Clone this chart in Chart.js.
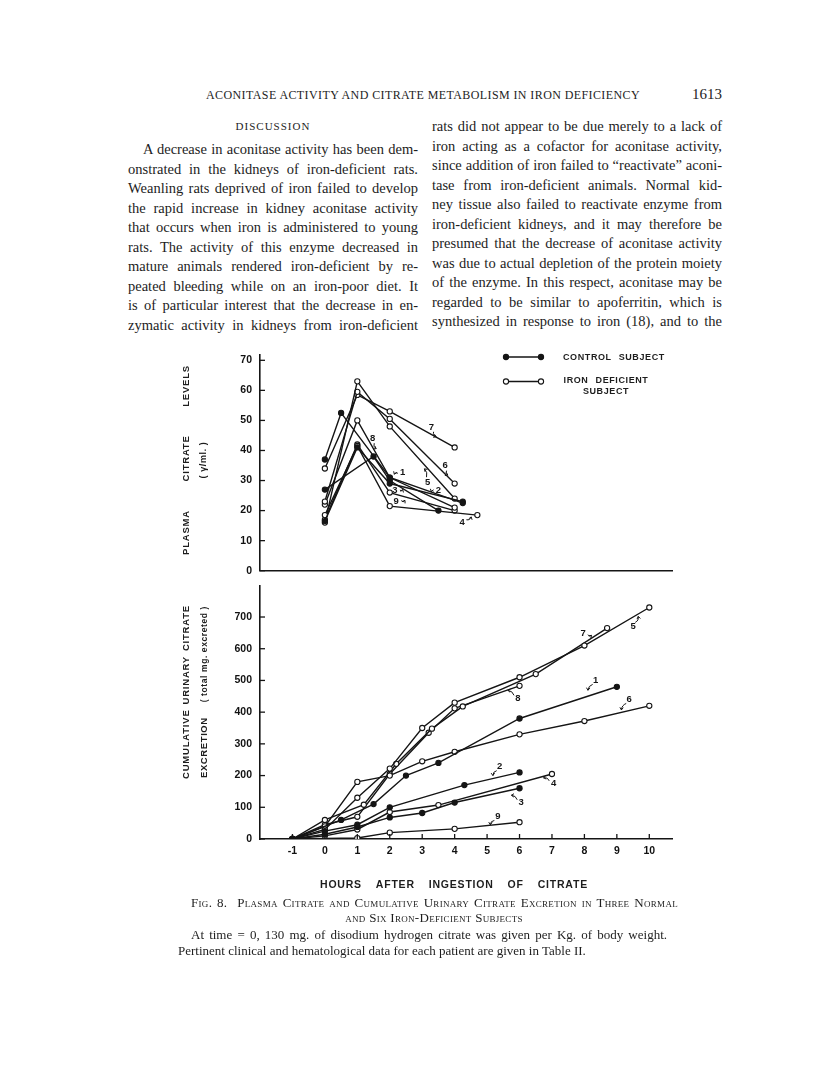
<!DOCTYPE html>
<html>
<head>
<meta charset="utf-8">
<script src="https://cdn.jsdelivr.net/npm/chart.js@4.4.1/dist/chart.umd.min.js"></script>
<style>
  html, body { margin: 0; padding: 0; background: #fff; }
  #page { position: relative; width: 816px; height: 1073px; overflow: hidden; color: #1d1d1d;
          font-family: "Liberation Serif", "DejaVu Serif", serif; }
  .abs { position: absolute; }
  .line { position: absolute; height: 19px; line-height: 19px; font-size: 14.5px;
          text-align: justify; text-align-last: justify; }
  .sans { font-family: "Liberation Sans", Arial, sans-serif; font-weight: bold; }
  .vtitle { position: absolute; display: flex; justify-content: space-between; align-items: center;
            transform: translate(-50%, -50%) rotate(-90deg); white-space: nowrap; }
  canvas { position: absolute; }
</style>
</head>
<body>
<div id="page">
  <div class="abs" style="left:206px; top:88px; width:434px; font-size:12px; letter-spacing:0.4px; text-align:justify; text-align-last:justify;">ACONITASE ACTIVITY AND CITRATE METABOLISM IN IRON DEFICIENCY</div>
  <div class="abs" style="left:670px; top:86px; width:52px; font-size:15px; text-align:right;">1613</div>
  <div class="abs" style="left:128px; top:120px; width:290px; font-size:11px; letter-spacing:1px; text-align:center;">DISCUSSION</div>
  <div id="leftCol"></div>
  <div id="rightCol"></div>

  <canvas id="plasmaChart" width="520" height="245" style="left:160px; top:340px;"></canvas>
  <canvas id="urineChart" width="520" height="298" style="left:160px; top:571px;"></canvas>

  <div class="abs sans" style="left:563px; top:351px; font-size:9px; line-height:12px; letter-spacing:0.6px; word-spacing:4px;">CONTROL SUBJECT</div>
  <div class="abs sans" style="left:561px; top:375px; width:90px; font-size:9px; line-height:11px; letter-spacing:0.6px; word-spacing:4px; text-align:center;">IRON DEFICIENT<br>SUBJECT</div>

  <div class="vtitle sans" style="left:185px; top:460px; width:190px; font-size:9.5px; letter-spacing:0.8px;"><span>PLASMA</span><span>CITRATE</span><span>LEVELS</span></div>
  <div class="vtitle sans" style="left:203px; top:460px; font-size:9px; letter-spacing:0.6px;"><span>( γ/ml. )</span></div>
  <div class="vtitle sans" style="left:185px; top:692px; width:174px; font-size:9.5px; letter-spacing:0.8px;"><span>CUMULATIVE</span><span>URINARY</span><span>CITRATE</span></div>
  <div class="vtitle sans" style="left:203px; top:692px; width:172px; letter-spacing:0.6px;"><span style="font-size:9.5px;">EXCRETION</span><span style="font-size:8.5px;">( total mg. excreted )</span></div>

  <div class="abs sans" style="left:320px; top:878px; width:268px; font-size:10.5px; letter-spacing:0.8px; display:flex; justify-content:space-between;"><span>HOURS</span><span>AFTER</span><span>INGESTION</span><span>OF</span><span>CITRATE</span></div>

  <div class="abs" style="left:191px; top:895px; width:487px; font-size:13px; line-height:15px; font-variant:small-caps; letter-spacing:0.3px; text-align:justify; text-align-last:justify;">Fig. 8.&nbsp; Plasma Citrate and Cumulative Urinary Citrate Excretion in Three Normal</div>
  <div class="abs" style="left:190px; top:910px; width:488px; font-size:13px; line-height:15px; font-variant:small-caps; letter-spacing:0.3px; text-align:center;">and Six Iron-Deficient Subjects</div>
  <div class="abs" style="left:191px; top:927px; width:476px; font-size:13px; line-height:15px; text-align:justify; text-align-last:justify;">At time = 0, 130 mg. of disodium hydrogen citrate was given per Kg. of body weight.</div>
  <div class="abs" style="left:178px; top:943px; width:460px; font-size:13px; line-height:15px; white-space:nowrap;">Pertinent clinical and hematological data for each patient are given in Table II.</div>
</div>

<script>
// ===============================
// TEXT
// ===============================
const leftLines = [
  "A decrease in aconitase activity has been dem-",
  "onstrated in the kidneys of iron-deficient rats.",
  "Weanling rats deprived of iron failed to develop",
  "the rapid increase in kidney aconitase activity",
  "that occurs when iron is administered to young",
  "rats.  The activity of this enzyme decreased in",
  "mature animals rendered iron-deficient by re-",
  "peated bleeding while on an iron-poor diet.  It",
  "is of particular interest that the decrease in en-",
  "zymatic activity in kidneys from iron-deficient"
];
const rightLines = [
  "rats did not appear to be due merely to a lack of",
  "iron acting as a cofactor for aconitase activity,",
  "since addition of iron failed to \u201creactivate\u201d aconi-",
  "tase from iron-deficient animals.  Normal kid-",
  "ney tissue also failed to reactivate enzyme from",
  "iron-deficient kidneys, and it may therefore be",
  "presumed that the decrease of aconitase activity",
  "was due to actual depletion of the protein moiety",
  "of the enzyme.  In this respect, aconitase may be",
  "regarded to be similar to apoferritin, which is",
  "synthesized in response to iron (18), and to the"
];

function placeLines(el, lines, left, top, width, indent) {
  lines.forEach((txt, i) => {
    const d = document.createElement("div");
    d.className = "line";
    d.style.left = (left + (i === 0 ? indent : 0)) + "px";
    d.style.width = (width - (i === 0 ? indent : 0)) + "px";
    d.style.top = (top + i * 19.5) + "px";
    d.textContent = txt;
    el.appendChild(d);
  });
}
placeLines(document.getElementById("leftCol"), leftLines, 128, 140, 290, 15);
placeLines(document.getElementById("rightCol"), rightLines, 432, 117, 290, 0);

// ===============================
// DATA
// ===============================
const hourTicks = [-1, 0, 1, 2, 3, 4, 5, 6, 7, 8, 9, 10];
const plasmaTicks = [0, 10, 20, 30, 40, 50, 60, 70];
const urineTicks = [0, 100, 200, 300, 400, 500, 600, 700];

// plasma citrate (γ/ml) — [hour, value]; subjects 1-3 control
const plasma1 = [[0, 37], [0.5, 52.5], [2, 31], [4.25, 22.5]];
const plasma2 = [[0, 16.5], [1, 41], [2, 29], [4.25, 23]];
const plasma3 = [[0, 27], [1.5, 38], [2, 30], [3.5, 20]];
const plasma4 = [[0, 18.5], [1, 41.5], [2, 21.5], [4.7, 18.5]];
const plasma5 = [[0, 16], [1, 63], [2, 48], [4, 24]];
const plasma6 = [[0, 23], [1, 59.5], [2, 50.5], [4, 29]];
const plasma7 = [[0, 34], [1, 58.5], [2, 53], [4, 41]];
const plasma8 = [[0, 22], [1, 50], [2, 31], [4, 21]];
const plasma9 = [[0, 17], [1, 42], [2, 26], [4, 20]];

// cumulative urinary citrate (total mg excreted)
const urine1 = [[-1, 0], [0.5, 60], [1.5, 110], [2.5, 200], [3.5, 240], [6, 380], [9, 480]];
const urine2 = [[-1, 0], [0, 25], [1, 45], [2, 100], [4.3, 170], [6, 210]];
const urine3 = [[-1, 0], [0, 15], [1, 38], [2, 68], [3, 82], [4, 115], [6, 160]];
const urine4 = [[-1, 0], [0, 10], [1, 30], [2, 85], [3.5, 107], [7, 205]];
const urine5 = [[-1, 0], [0, 30], [1, 130], [2, 222], [3, 350], [4, 430], [6, 510], [8, 610], [10, 730]];
const urine6 = [[-1, 0], [0, 40], [1, 180], [2, 200], [3, 245], [4, 275], [6, 330], [8, 372], [10, 420]];
const urine7 = [[-1, 0], [0, 60], [1.2, 108], [2.2, 237], [3.3, 348], [4.25, 418], [6.5, 520], [8.7, 665]];
const urine8 = [[-1, 0], [0, 45], [1, 70], [2, 205], [3.2, 335], [4, 412], [6, 483]];
const urine9 = [[-1, 0], [1, 3], [2, 20], [4, 32], [6, 53]];

const controlSubjects = [1, 2, 3];

// ===============================
// HELPERS
// ===============================
Chart.defaults.font.family = '"Liberation Sans", Arial, sans-serif';
Chart.defaults.color = "#111";

function series(points, subject) {
  const control = controlSubjects.includes(subject);
  return {
    data: points.map(p => ({ x: p[0], y: p[1] })),
    showLine: true,
    borderColor: "#151515",
    borderWidth: 1.4,
    pointRadius: 2.6,
    pointBackgroundColor: control ? "#151515" : "#fff",
    pointBorderColor: "#151515",
    pointBorderWidth: 1.1
  };
}

function xScale(showLabels) {
  return {
    type: "linear",
    min: -2, max: 10.7,
    afterBuildTicks: s => { s.ticks = hourTicks.map(v => ({ value: v })); },
    afterFit: s => { s.height = showLabels ? 30 : 5; },
    grid: { display: false, drawTicks: false },
    border: { display: true, color: "#151515", width: 1.6 },
    ticks: { display: showLabels, padding: 6, font: { size: 10.5, weight: "bold" } }
  };
}

function yScale(ticks, max) {
  return {
    min: 0, max: max,
    afterBuildTicks: s => { s.ticks = ticks.map(v => ({ value: v })); },
    afterFit: s => { s.width = 100; },
    grid: { display: false, drawTicks: false },
    border: { display: true, color: "#151515", width: 1.6 },
    ticks: { padding: 8, font: { size: 10.5, weight: "bold" } }
  };
}

// inward tick marks, curve numbers with small hooked arrows, legend symbols
const decorations = {
  id: "decorations",
  afterDatasetsDraw(chart, args, opts) {
    const { ctx, chartArea: a, scales: { x, y } } = chart;
    ctx.save();
    ctx.strokeStyle = "#151515";
    ctx.fillStyle = "#151515";
    ctx.lineWidth = 1.3;
    y.ticks.forEach(t => {
      const py = y.getPixelForValue(t.value);
      ctx.beginPath(); ctx.moveTo(a.left, py); ctx.lineTo(a.left + 5, py); ctx.stroke();
    });
    if (opts.xTicks) {
      x.ticks.forEach(t => {
        const px = x.getPixelForValue(t.value);
        ctx.beginPath(); ctx.moveTo(px, a.bottom); ctx.lineTo(px, a.bottom - 5); ctx.stroke();
      });
    }

    ctx.lineWidth = 1;
    ctx.font = 'bold 9.5px "Liberation Sans", Arial, sans-serif';
    ctx.textAlign = "center";
    ctx.textBaseline = "middle";
    (opts.labels || []).forEach(it => {
      const lx = x.getPixelForValue(it.at[0]), ly = y.getPixelForValue(it.at[1]);
      const tx = x.getPixelForValue(it.to[0]), ty = y.getPixelForValue(it.to[1]);
      ctx.fillText(it.t, lx, ly);
      const dx = tx - lx, dy = ty - ly, d = Math.hypot(dx, dy) || 1;
      const sx = lx + dx / d * 5, sy = ly + dy / d * 5;
      const mx = (sx + tx) / 2 - dy / d * 2.5, my = (sy + ty) / 2 + dx / d * 2.5;
      ctx.beginPath(); ctx.moveTo(sx, sy); ctx.quadraticCurveTo(mx, my, tx, ty); ctx.stroke();
      const ang = Math.atan2(ty - my, tx - mx);
      ctx.beginPath();
      ctx.moveTo(tx, ty); ctx.lineTo(tx - 3 * Math.cos(ang - 0.6), ty - 3 * Math.sin(ang - 0.6));
      ctx.moveTo(tx, ty); ctx.lineTo(tx - 3 * Math.cos(ang + 0.6), ty - 3 * Math.sin(ang + 0.6));
      ctx.stroke();
    });

    if (opts.legend) {
      ctx.lineWidth = 1.4;
      [[17, true], [41.5, false]].forEach(([ly, filled]) => {
        ctx.beginPath(); ctx.moveTo(346, ly); ctx.lineTo(381, ly); ctx.stroke();
        [346, 381].forEach(lx => {
          ctx.beginPath(); ctx.arc(lx, ly, 2.6, 0, Math.PI * 2);
          ctx.fillStyle = filled ? "#151515" : "#fff";
          ctx.fill(); ctx.lineWidth = 1.1; ctx.stroke();
        });
        ctx.lineWidth = 1.4;
      });
    }
    ctx.restore();
  }
};

// ===============================
// PLASMA CITRATE CHART
// ===============================
new Chart(document.getElementById("plasmaChart"), {
  type: "scatter",
  data: {
    datasets: [plasma1, plasma2, plasma3, plasma4, plasma5, plasma6, plasma7, plasma8, plasma9]
      .map((p, i) => series(p, i + 1))
  },
  options: {
    responsive: false,
    animation: false,
    layout: { padding: { left: 0, right: 8, top: 10, bottom: 0 } },
    scales: { x: xScale(false), y: yScale(plasmaTicks, 72) },
    plugins: {
      legend: { display: false },
      tooltip: { enabled: false },
      decorations: {
        xTicks: false,
        legend: true,
        labels: [
          { t: "7", at: [3.28, 47.7], to: [3.43, 44.6] },
          { t: "8", at: [1.47, 44], to: [1.58, 40.6] },
          { t: "6", at: [3.71, 34.9], to: [3.79, 31.8] },
          { t: "5", at: [3.17, 29.5], to: [3.07, 33.9] },
          { t: "1", at: [2.4, 32.8], to: [2.14, 32.1] },
          { t: "3", at: [2.16, 26.6], to: [2.4, 27] },
          { t: "2", at: [3.5, 26.6], to: [3.28, 26.3] },
          { t: "9", at: [2.2, 23.2], to: [2.47, 23.4] },
          { t: "4", at: [4.23, 16.1], to: [4.51, 17.9] }
        ]
      }
    }
  },
  plugins: [decorations]
});

// ===============================
// CUMULATIVE URINARY CITRATE CHART
// ===============================
new Chart(document.getElementById("urineChart"), {
  type: "scatter",
  data: {
    datasets: [urine1, urine2, urine3, urine4, urine5, urine6, urine7, urine8, urine9]
      .map((p, i) => series(p, i + 1))
  },
  options: {
    responsive: false,
    animation: false,
    layout: { padding: { left: 0, right: 8, top: 10, bottom: 0 } },
    scales: { x: xScale(true), y: yScale(urineTicks, 800) },
    plugins: {
      legend: { display: false },
      tooltip: { enabled: false },
      decorations: {
        xTicks: true,
        labels: [
          { t: "7", at: [7.96, 648], to: [8.22, 642] },
          { t: "5", at: [9.5, 669], to: [9.66, 702] },
          { t: "8", at: [5.95, 443], to: [5.64, 469] },
          { t: "1", at: [8.35, 500], to: [8.11, 469] },
          { t: "6", at: [9.38, 440], to: [9.14, 407] },
          { t: "2", at: [5.39, 228], to: [5.18, 200] },
          { t: "4", at: [7.05, 176], to: [6.74, 193] },
          { t: "3", at: [6.05, 114], to: [5.75, 138] },
          { t: "9", at: [5.33, 70], to: [5.1, 45] }
        ]
      }
    }
  },
  plugins: [decorations]
});
</script>
</body>
</html>
